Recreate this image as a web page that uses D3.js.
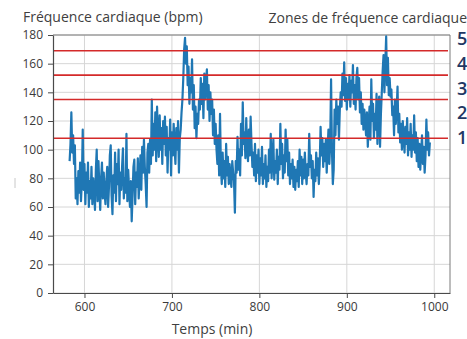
<!DOCTYPE html>
<html>
<head>
<meta charset="utf-8">
<script src="https://cdn.jsdelivr.net/npm/d3@7"></script>
<style>
  html, body { margin: 0; padding: 0; background: #fff; }
  svg { display: block; }
  text { font-family: "Open Sans", "Noto Sans", sans-serif; }
</style>
</head>
<body>
<svg id="chart" width="467" height="339"></svg>
<script>
// time of the first sample (min), then one sample per minute
const startMinute = 583;
const heartRate = [
  92, 104, 126, 98, 110, 90, 103, 66, 80, 62,
  85, 70, 91, 64, 78, 114, 72, 90, 62, 84,
  70, 91, 60, 78, 66, 88, 62, 80, 72, 58,
  86, 100, 64, 92, 74, 58, 80, 91, 66, 84,
  70, 62, 78, 88, 60, 74, 96, 103, 68, 55,
  82, 70, 98, 64, 90, 76, 100, 62, 84, 72,
  88, 101, 66, 80, 70, 111, 64, 86, 72, 60,
  78, 50, 68, 88, 93, 62, 84, 74, 94, 66,
  80, 96, 72, 102, 84, 107, 88, 76, 60, 98,
  104, 84, 107, 90, 135, 96, 118, 100, 126, 92,
  130, 110, 95, 124, 100, 115, 90, 120, 104, 123,
  96, 116, 84, 108, 100, 121, 82, 112, 96, 118,
  102, 90, 115, 100, 120, 84, 108, 114, 126, 135,
  150, 170, 178, 160, 172, 145, 158, 132, 150, 140,
  163, 128, 145, 115, 130, 108, 125, 118, 135, 128,
  150, 132, 146, 122, 153, 135, 148, 156, 128, 145,
  120, 140, 125, 135, 110, 128, 104, 118, 100, 90,
  110, 82, 125, 88, 76, 98, 80, 92, 74, 104,
  82, 95, 76, 90, 80, 74, 92, 84, 78, 56,
  92, 84, 109, 86, 100, 82, 118, 96, 133, 104,
  112, 94, 122, 100, 92, 114, 96, 123, 104, 88,
  98, 82, 104, 78, 96, 84, 100, 76, 94, 82,
  102, 76, 90, 80, 96, 74, 88, 78, 100, 84,
  111, 80, 96, 107, 79, 92, 84, 100, 76, 95,
  86, 118, 90, 104, 80, 96, 84, 114, 92, 107,
  82, 98, 76, 90, 80, 93, 74, 88, 72, 86,
  78, 92, 74, 100, 82, 95, 76, 93, 80, 98,
  84, 76, 90, 82, 111, 88, 96, 80, 92, 67,
  86, 78, 98, 82, 94, 76, 90, 116, 96, 108,
  88, 104, 92, 107, 84, 100, 114, 90, 105, 149,
  100, 76, 86, 128, 110, 135, 118, 130, 107, 128,
  140, 130, 153, 138, 161, 134, 150, 128, 146, 135,
  152, 130, 148, 140, 159, 132, 145, 128, 150, 157,
  135, 150, 126, 140, 118, 132, 114, 128, 120, 110,
  126, 102, 118, 130, 107, 149, 120, 132, 108, 125,
  114, 139, 104, 128, 137, 102, 125, 140, 155, 166,
  140, 160, 179, 145, 164, 138, 150, 137, 142, 124,
  130, 110, 135, 118, 128, 144, 112, 125, 105, 118,
  100, 120, 108, 98, 116, 104, 122, 96, 112, 100,
  118, 95, 110, 100, 124, 98, 112, 92, 108, 88,
  104, 86, 98, 110, 90, 102, 84, 96, 121, 100,
  112, 96, 105
];

// zone boundaries (bpm) and zone names
const zoneLimits = [108, 135, 152, 169];
const zoneLabels = ['5', '4', '3', '2', '1'];

const xTicks = [600, 700, 800, 900, 1000];
const yTicks = [0, 20, 40, 60, 80, 100, 120, 140, 160, 180];

const svg = d3.select('#chart');

const plotLeft = 53, plotRight = 450, plotTop = 35, plotBottom = 293;

const x = d3.scaleLinear().domain([564, 1018]).range([plotLeft, plotRight]);
const y = d3.scaleLinear().domain([0, 180]).range([plotBottom, plotTop]);

// grid
svg.append('g')
  .selectAll('line')
  .data(yTicks)
  .join('line')
  .attr('x1', plotLeft).attr('x2', plotRight)
  .attr('y1', d => y(d)).attr('y2', d => y(d))
  .attr('stroke', '#d6d6d6').attr('stroke-width', 1);

svg.append('g')
  .selectAll('line')
  .data(xTicks)
  .join('line')
  .attr('x1', d => x(d)).attr('x2', d => x(d))
  .attr('y1', plotTop).attr('y2', plotBottom)
  .attr('stroke', '#d6d6d6').attr('stroke-width', 1);

// top and right frame
svg.append('path')
  .attr('d', `M${plotLeft},${plotTop}H${plotRight}V${plotBottom}`)
  .attr('fill', 'none')
  .attr('stroke', '#7a7a7a')
  .attr('stroke-width', 1);

// heart rate trace
const points = heartRate.map((v, i) => [startMinute + i, v]);
svg.append('path')
  .datum(points)
  .attr('fill', 'none')
  .attr('stroke', '#1f77b4')
  .attr('stroke-width', 2.2)
  .attr('stroke-linejoin', 'round')
  .attr('d', d3.line().x(d => x(d[0])).y(d => y(d[1])));

// zone limits
svg.append('g')
  .selectAll('line')
  .data(zoneLimits)
  .join('line')
  .attr('x1', plotLeft).attr('x2', plotRight - 2)
  .attr('y1', d => y(d)).attr('y2', d => y(d))
  .attr('stroke', '#d42a2a').attr('stroke-width', 1.6);

// axes
const xAxis = svg.append('g')
  .attr('transform', `translate(0,${plotBottom})`)
  .call(d3.axisBottom(x).tickValues(xTicks).tickFormat(d3.format('d'))
    .tickSize(5).tickPadding(4).tickSizeOuter(0));
const yAxis = svg.append('g')
  .attr('transform', `translate(${plotLeft},0)`)
  .call(d3.axisLeft(y).tickValues(yTicks).tickFormat(d3.format('d'))
    .tickSize(5).tickPadding(5).tickSizeOuter(0));

[xAxis, yAxis].forEach(a => {
  a.select('.domain').attr('stroke', '#4a4a4a').attr('stroke-width', 1.2);
  a.selectAll('.tick line').attr('stroke', '#4a4a4a');
  a.selectAll('.tick text')
    .attr('fill', '#3a3a3a')
    .style('font-family', '"Open Sans", sans-serif')
    .style('font-size', '12px');
});

// titles
svg.append('text')
  .attr('x', 23).attr('y', 22)
  .attr('fill', '#404040')
  .style('font-size', '14px')
  .text('Fréquence cardiaque (bpm)');

svg.append('text')
  .attr('x', 467).attr('y', 23)
  .attr('text-anchor', 'end')
  .attr('fill', '#404040')
  .style('font-size', '14px')
  .text('Zones de fréquence cardiaque');

svg.append('text')
  .attr('x', 212).attr('y', 334)
  .attr('text-anchor', 'middle')
  .attr('fill', '#404040')
  .style('font-size', '14px')
  .text('Temps (min)');

// zone numbers on the right
svg.append('g')
  .selectAll('text')
  .data(zoneLabels)
  .join('text')
  .attr('x', 457)
  .attr('y', (d, i) => 45 + i * 24.75)
  .attr('fill', '#1f3864')
  .style('font-size', '18px')
  .style('font-weight', 600)
  .text(d => d);

// small stray mark left of the axis
svg.append('line')
  .attr('x1', 15).attr('x2', 15)
  .attr('y1', 178).attr('y2', 188)
  .attr('stroke', '#c8c8c8');
</script>
</body>
</html>
